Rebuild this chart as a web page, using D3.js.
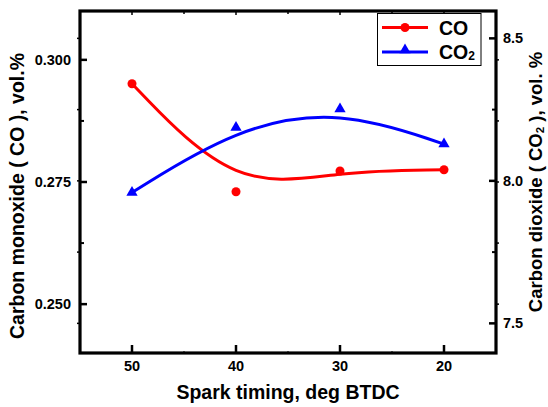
<!DOCTYPE html>
<html>
<head>
<meta charset="utf-8">
<script src="https://cdn.jsdelivr.net/npm/d3@7"></script>
<style>
  html, body { margin: 0; padding: 0; background: #fff; }
  svg { display: block; }
  text { font-family: "Liberation Sans", Arial, sans-serif; font-weight: bold; fill: #000; }
</style>
</head>
<body>
<svg id="chart" width="548" height="407"></svg>
<script>
// ---- data ----
const sparkTiming = [50, 40, 30, 20];
const coValues  = [0.2951, 0.2730, 0.27725, 0.2775];
const co2Values = [7.959, 8.187, 8.252, 8.129];
const xTicks = [50, 40, 30, 20];
const xMinorTicks = [45, 35, 25];
const leftTicks = [0.300, 0.275, 0.250];
const leftMinorTicks = [0.2875, 0.2625];
const rightTicks = [8.5, 8.0, 7.5];
const rightMinorTicks = [8.25, 7.75];

const svg = d3.select("#chart");
const L = 80, R = 496, T = 11, B = 353;

const x = d3.scaleLinear().domain([55, 15]).range([L, R]);
const yL = d3.scaleLinear().domain([0.24, 0.31]).range([B, T]);
const yR = d3.scaleLinear().domain([7.396, 8.596]).range([B, T]);

// ---- ticks ----
const tk = svg.append("g").attr("stroke", "#000");
function hTick(y, x1, x2, w) {
  tk.append("line").attr("x1", x1).attr("x2", x2).attr("y1", y).attr("y2", y).attr("stroke-width", w);
}
function vTick(xx, y1, y2, w) {
  tk.append("line").attr("x1", xx).attr("x2", xx).attr("y1", y1).attr("y2", y2).attr("stroke-width", w);
}
// left axis: inward own ticks, outward small marks for right-axis ticks
leftTicks.forEach(v => hTick(yL(v), L, L + 7, 2.5));
leftMinorTicks.forEach(v => hTick(yL(v), L, L + 4, 2));
rightTicks.concat(rightMinorTicks).forEach(v => hTick(yR(v), L - 3, L, 1.5));
// right axis
rightTicks.forEach(v => hTick(yR(v), R - 7, R, 2.5));
rightMinorTicks.forEach(v => hTick(yR(v), R - 4, R, 2));
leftTicks.concat(leftMinorTicks).forEach(v => hTick(yL(v), R, R + 3, 1.5));
// bottom axis
xTicks.forEach(v => vTick(x(v), B - 8, B, 2.5));
xMinorTicks.forEach(v => vTick(x(v), B - 2, B, 1));
// top axis
xTicks.forEach(v => vTick(x(v), T, T + 4, 1.5));
xMinorTicks.forEach(v => vTick(x(v), T, T + 3, 1.5));

// ---- frame ----
svg.append("rect").attr("x", L).attr("y", T).attr("width", R - L).attr("height", B - T)
  .attr("fill", "none").attr("stroke", "#000").attr("stroke-width", 3.2);

// ---- tick labels ----
leftTicks.forEach(v => svg.append("text").attr("x", L - 9).attr("y", yL(v) + 5)
  .attr("text-anchor", "end").attr("font-size", 14.5).text(v.toFixed(3)));
rightTicks.forEach(v => svg.append("text").attr("x", R + 7).attr("y", yR(v) + 5)
  .attr("text-anchor", "start").attr("font-size", 14.5).text(v.toFixed(1)));
xTicks.forEach(v => svg.append("text").attr("x", x(v)).attr("y", B + 18)
  .attr("text-anchor", "middle").attr("font-size", 14.5).text(v));

// ---- axis titles ----
svg.append("text").attr("x", (L + R) / 2).attr("y", 399).attr("text-anchor", "middle")
  .attr("font-size", 19.5).text("Spark timing, deg BTDC");
svg.append("text").attr("transform", "translate(24,196) rotate(-90)").attr("text-anchor", "middle")
  .attr("font-size", 19.5).text("Carbon monoxide ( CO ), vol.%");
const rt = svg.append("text").attr("transform", "translate(542,182) rotate(-90)").attr("text-anchor", "middle")
  .attr("font-size", 18.5);
rt.append("tspan").text("Carbon dioxide ( CO");
rt.append("tspan").attr("font-size", 11.5).attr("dy", 2).text("2");
rt.append("tspan").attr("dy", -2).text(" ), vol. %");

// ---- curves ----
const lineCO = d3.line().x((d, i) => x(sparkTiming[i])).y(d => yL(d)).curve(d3.curveBasis);
const lineCO2 = d3.line().x((d, i) => x(sparkTiming[i])).y(d => yR(d)).curve(d3.curveBasis);
svg.append("path").attr("d", lineCO(coValues)).attr("fill", "none").attr("stroke", "#ff0000").attr("stroke-width", 3);
svg.append("path").attr("d", lineCO2(co2Values)).attr("fill", "none").attr("stroke", "#0000ff").attr("stroke-width", 3);

const tri = d3.symbol().type(d3.symbolTriangle).size(55);
svg.append("g").selectAll("circle").data(coValues).join("circle")
  .attr("cx", (d, i) => x(sparkTiming[i])).attr("cy", d => yL(d)).attr("r", 4.5).attr("fill", "#ff0000");
svg.append("g").selectAll("path").data(co2Values).join("path")
  .attr("d", tri).attr("transform", (d, i) => `translate(${x(sparkTiming[i])},${yR(d)})`).attr("fill", "#0000ff");

// ---- legend ----
const lg = svg.append("g");
lg.append("rect").attr("x", 377.5).attr("y", 13.5).attr("width", 103.5).attr("height", 52)
  .attr("fill", "#fff").attr("stroke", "#000").attr("stroke-width", 1);
lg.append("line").attr("x1", 382).attr("x2", 428).attr("y1", 27.5).attr("y2", 27.5).attr("stroke", "#ff0000").attr("stroke-width", 3);
lg.append("circle").attr("cx", 405).attr("cy", 27.5).attr("r", 4.5).attr("fill", "#ff0000");
lg.append("text").attr("x", 439).attr("y", 34.5).attr("font-size", 19.5).text("CO");
lg.append("line").attr("x1", 382).attr("x2", 428).attr("y1", 52).attr("y2", 52).attr("stroke", "#0000ff").attr("stroke-width", 3);
lg.append("path").attr("d", tri).attr("transform", "translate(405,50)").attr("fill", "#0000ff");
const t2 = lg.append("text").attr("x", 439).attr("y", 59).attr("font-size", 19.5);
t2.append("tspan").text("CO");
t2.append("tspan").attr("font-size", 12).attr("dy", 1).text("2");
</script>
</body>
</html>
